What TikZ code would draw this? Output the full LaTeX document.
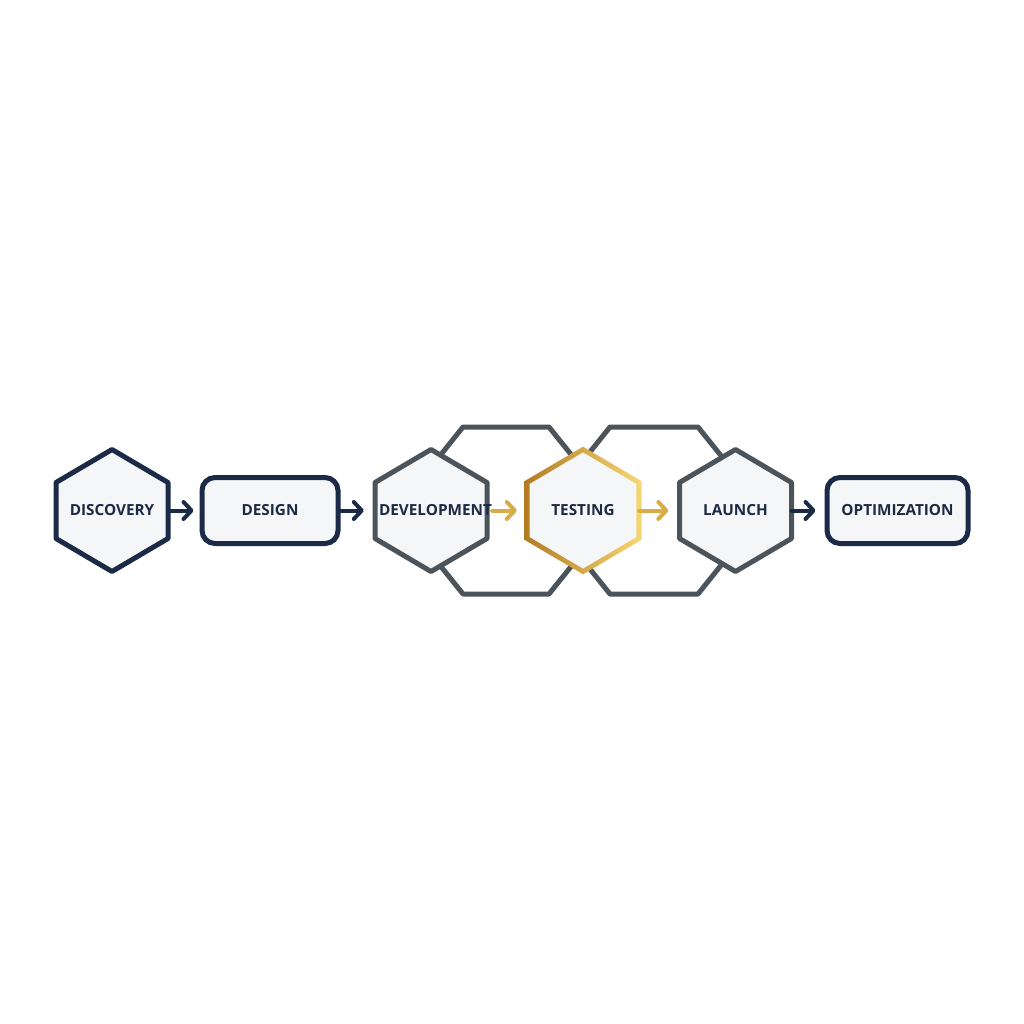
\documentclass[tikz,border=0pt]{standalone}
\usepackage{fontspec}
\setsansfont{Open Sans}
\usetikzlibrary{arrows.meta,backgrounds}
\definecolor{navy}{HTML}{1B2A47}
\definecolor{slate}{HTML}{4B535B}
\definecolor{paper}{HTML}{F5F6F7}
\definecolor{goldA}{HTML}{D8AC48}
\definecolor{goldL}{HTML}{B47A22}
\definecolor{goldM}{HTML}{DDAE45}
\definecolor{goldR}{HTML}{F6D873}
\definecolor{ink}{HTML}{1C2B45}
\newcommand{\hexpath}{(0,-61) -- (56,-28) -- (56,28) -- (0,61) -- (-56,28) -- (-56,-28) -- cycle}
\newcommand{\hexouter}{(0,-63.8) -- (58.6,-29.3) -- (58.6,29.3) -- (0,63.8) -- (-58.6,29.3) -- (-58.6,-29.3) -- cycle}
\newcommand{\hexinner}{(0,-58.2) -- (53.4,-26.7) -- (53.4,26.7) -- (0,58.2) -- (-53.4,26.7) -- (-53.4,-26.7) -- cycle}
\begin{document}
\begin{tikzpicture}[x=1pt,y=-1pt,
  lbl/.style={font=\sffamily\bfseries\fontsize{15.3}{18}\selectfont, text=ink, inner sep=0pt},
  hexnode/.style={lbl, minimum width=112pt, minimum height=122pt},
  boxnode/.style={lbl, draw=navy, line width=5pt, fill=paper, rounded corners=13pt, minimum height=66pt},
  hexnavy/.style={fill=paper, draw=navy, line width=5pt, line join=round},
  hexslate/.style={fill=paper, draw=slate, line width=5pt, line join=round},
  bighex/.style={draw=slate, line width=5pt, line join=round},
  flow/.style={line width=4pt, -{Straight Barb[length=8pt,width=17pt,round]}, line cap=round},
  flownavy/.style={flow, draw=navy},
  flowgold/.style={flow, draw=goldA}
]
\useasboundingbox (0,0) rectangle (1024,1024);

% nodes
\node[hexnode] (disc) at (112,510.5) {DISCOVERY};
\node[boxnode, minimum width=136pt] (design) at (270,510.5) {DESIGN};
\node[hexnode] (dev) at (431,510.5) {};
\node[hexnode] (test) at (583,510.5) {TESTING};
\node[hexnode] (launch) at (735.5,510.5) {LAUNCH};
\node[boxnode, minimum width=141pt] (opt) at (897.5,510.5) {OPTIMIZATION};

\begin{pgfonlayer}{background}
  \fill[white] (0,0) rectangle (1024,1024);
  % large background hexagons
  \draw[bighex] (396,510.5) -- (463,427) -- (549,427) -- (616,510.5) -- (549,594) -- (463,594) -- cycle;
  \draw[bighex] (543,510.5) -- (610,427) -- (698,427) -- (765,510.5) -- (698,594) -- (610,594) -- cycle;
  % stage hexagons
  \draw[hexnavy, shift={(disc.center)}] \hexpath;
  \draw[hexslate, shift={(dev.center)}] \hexpath;
  \draw[hexslate, shift={(launch.center)}] \hexpath;
  \fill[paper, shift={(test.center)}] \hexpath;
  \shade[shift={(test.center)}, even odd rule, left color=goldL, middle color=goldM, right color=goldR] \hexouter \hexinner;
\end{pgfonlayer}

% connectors
\draw[flownavy, shorten >=6pt] (disc.east) -- (design.west);
\draw[flownavy, shorten >=11pt] (design.east) -- (dev.west);
\draw[flowgold, shorten <=5pt, shorten >=10pt] (dev.east) -- (test.west);
\draw[flowgold, shorten >=11pt] (test.east) -- (launch.west);
\draw[flownavy, shorten >=9pt] (launch.east) -- (opt.west);

% label of the development stage (set slightly right of centre, as printed)
\node[lbl] (devlabel) at (435.5,510.5) {DEVELOPMENT};
\end{tikzpicture}
\end{document}
